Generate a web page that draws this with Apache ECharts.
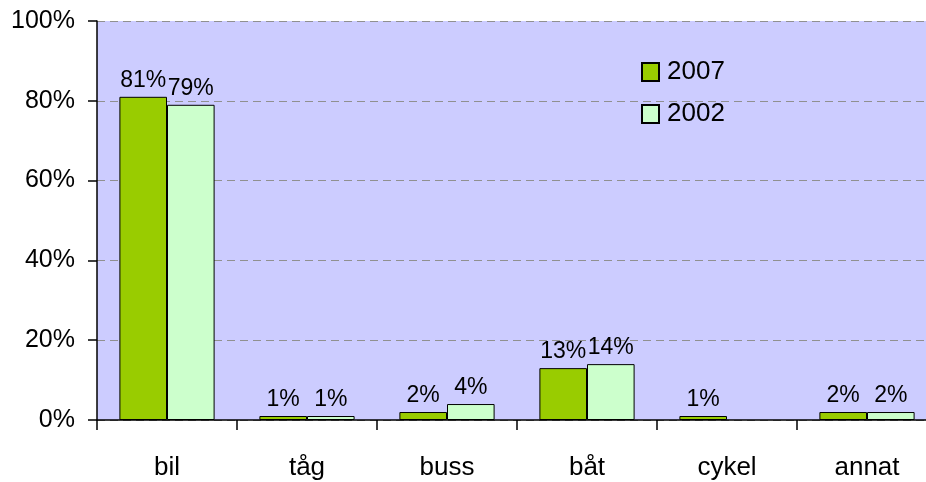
<!DOCTYPE html>
<html><head><meta charset="utf-8">
<script src="https://cdn.jsdelivr.net/npm/echarts@6/dist/echarts.min.js"></script>
<style>html,body{margin:0;padding:0;background:#fff;overflow:hidden}#c{width:937px;height:482px}</style>
</head><body><div id="c"></div>
<script>
const categories = ['bil', 'tåg', 'buss', 'båt', 'cykel', 'annat'];
const series2007 = [81, 1, 2, 13, 1, 2];
const series2002 = [79, 1, 4, 14, null, 2];
const yTicks = [0, 20, 40, 60, 80, 100];

const FONT = "'Liberation Sans', Arial, sans-serif";
const chart = echarts.init(document.getElementById('c'), null, {renderer: 'canvas'});
const labelCfg = {
  show: true, position: 'top', distance: 5, color: '#000',
  fontFamily: FONT, fontSize: 23,
  formatter: p => (p.value == null ? '' : p.value + '%')
};
chart.setOption({
  animation: false,
  backgroundColor: '#fff',
  grid: {left: 97, top: 21, bottom: 62, right: 0, show: true,
         backgroundColor: '#CCCCFF', borderWidth: 0},
  legend: {
    orient: 'vertical', left: 641, top: 59, padding: 0, itemWidth: 17, itemHeight: 18, itemGap: 16,
    icon: 'rect',
    textStyle: {fontFamily: FONT, fontSize: 26, color: '#000', padding: [0, 0, 0, 3]},
    data: ['2007', '2002']
  },
  xAxis: {
    type: 'category', data: categories,
    axisLine: {lineStyle: {color: '#000', width: 1.5}},
    axisTick: {show: true, length: 10, lineStyle: {color: '#000', width: 1.5}},
    axisLabel: {color: '#000', fontFamily: FONT, fontSize: 26, margin: 35}
  },
  yAxis: {
    type: 'value', min: yTicks[0], max: yTicks[yTicks.length - 1], interval: 20,
    axisLine: {show: true, lineStyle: {color: '#000', width: 1.5}},
    axisTick: {show: true, length: 9, lineStyle: {color: '#000', width: 1.5}},
    axisLabel: {color: '#000', fontFamily: FONT, fontSize: 25, margin: 22, formatter: '{value}%'},
    splitLine: {show: true, lineStyle: {color: '#909090', type: [8, 5], width: 1}}
  },
  series: [
    {name: '2007', type: 'bar', data: series2007, barGap: '0%', barCategoryGap: '32%',
     itemStyle: {color: '#99CC00', borderColor: '#000', borderWidth: 1}, label: labelCfg},
    {name: '2002', type: 'bar', data: series2002, barGap: '0%', barCategoryGap: '32%',
     itemStyle: {color: '#CCFFCC', borderColor: '#000', borderWidth: 1}, label: labelCfg}
  ]
});
</script></body></html>
